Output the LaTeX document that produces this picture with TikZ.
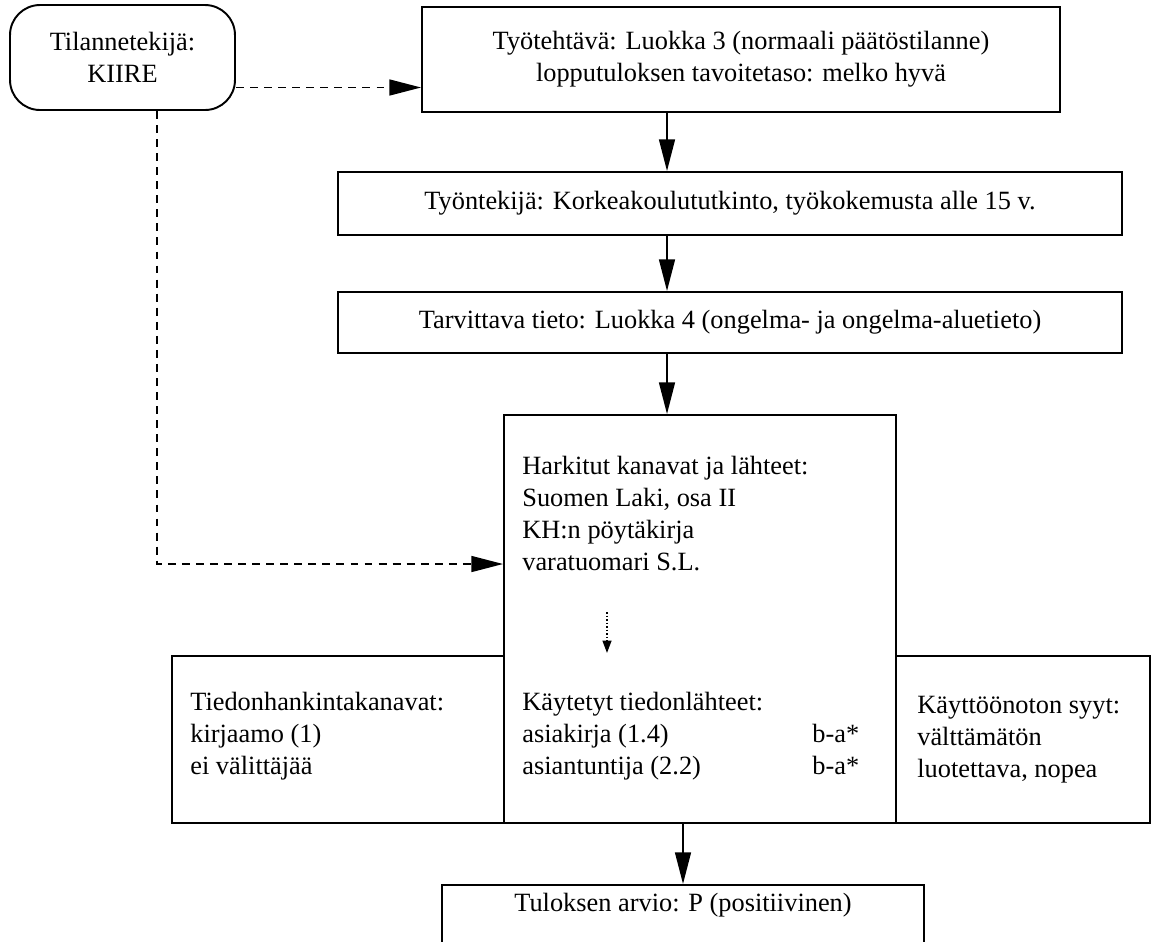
\documentclass[tikz,border=0pt]{standalone}
\usepackage{fontspec}
\setmainfont{Liberation Serif}
\usetikzlibrary{arrows.meta,positioning}

\tikzset{
  box/.style={draw, line width=1.1pt, inner sep=0pt, align=center},
  flow/.style={line width=1.1pt, -{Triangle[length=18pt,width=9pt]}},
  hint/.style={flow, dash pattern=on 4.5pt off 3.5pt},
  txt/.style={anchor=base west, align=left, inner sep=0pt},
}

\begin{document}
\begin{tikzpicture}[x=0.02cm, y=-0.02cm, font=\fontsize{15}{18.2}\selectfont]
\clip (0,0) rectangle (1157,941);

% Situation factor
\node[box, rounded corners=0.6cm, minimum width=4.5cm, minimum height=2.1cm] (situ) at (122.5,57.5) {Tilannetekijä:\\KIIRE};

% Main chain
\node[box, minimum width=12.76cm, minimum height=2.1cm] (task) at (741,59.5) {Työtehtävä: Luokka 3 (normaali päätöstilanne)\\lopputuloksen tavoitetaso: melko hyvä};
\node[box, minimum width=15.68cm, minimum height=1.26cm] (worker) at (730,203.5) {Työntekijä: Korkeakoulututkinto, työkokemusta alle 15 v.};
\node[box, minimum width=15.68cm, minimum height=1.22cm] (need) at (730,322.5) {Tarvittava tieto: Luokka 4 (ongelma- ja ongelma-aluetieto)};

% Sources and side boxes
\node[box, minimum width=7.84cm, minimum height=8.16cm] (sources) at (700,619) {};
\node[box, minimum width=6.64cm, minimum height=3.34cm] (channels) at (338,739.5) {};
\node[box, minimum width=5.08cm, minimum height=3.34cm] (reasons) at (1023,739.5) {};
\node[box, minimum width=9.64cm, minimum height=1.8cm, anchor=north] (result) at (683,884) {};

% texts (base = last line)
\node[txt] (considered) at (522,570) {Harkitut kanavat ja lähteet:\\Suomen Laki, osa II\\KH:n pöytäkirja\\varatuomari S.L.};
\node[txt] (used) at (522,774) {Käytetyt tiedonlähteet:\\asiakirja (1.4)\\asiantuntija (2.2)};
\node[txt] (grades) at (812,774) {b-a*\\b-a*};
\node[txt] (chantxt) at (190,774) {Tiedonhankintakanavat:\\kirjaamo (1)\\ei välittäjää};
\node[txt] (reasontxt) at (917,777) {Käyttöönoton syyt:\\välttämätön\\luotettava, nopea};
\node (resulttxt) at (683,905) {Tuloksen arvio: P (positiivinen)};

% Flow arrows
\coordinate (spine) at (667,0);
\draw[flow] (task.south -| spine) -- (worker.north -| spine);
\draw[flow] (worker.south -| spine) -- (need.north -| spine);
\draw[flow] (need.south -| spine) -- (sources.north -| spine);
\draw[flow] (sources.south -| result.north) -- (result.north);

% Situation influence
\coordinate (kink) at (157,564);
\draw[hint] ([yshift=-0.6cm]situ.east) -- ([yshift=-0.6cm]situ.east -| task.west);
\draw[hint] (situ.south -| kink) -- (kink) -- (kink -| sources.west);

% From considered to used
\coordinate (tickA) at (607,612);
\coordinate (tickB) at (607,653);
\draw[densely dotted, line width=1pt, -{Triangle[length=7pt,width=5pt]}] (tickA) -- (tickB);
\end{tikzpicture}
\end{document}
